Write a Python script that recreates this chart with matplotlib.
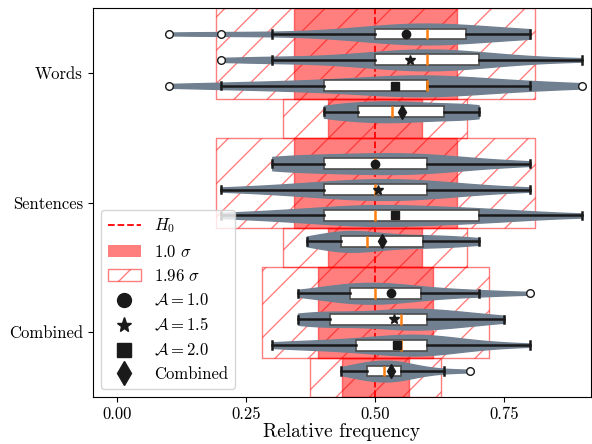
import numpy as np
import matplotlib
matplotlib.use("Agg")
import matplotlib.pyplot as plt
from matplotlib.lines import Line2D
from matplotlib.patches import Patch

plt.rcParams['font.family'] = 'serif'
plt.rcParams['font.serif'] = ['cmr10']
plt.rcParams['mathtext.fontset'] = 'cm'
plt.rcParams['axes.formatter.use_mathtext'] = True

# relative frequencies (value -> number of participants)
words_vals = [0.1, 0.2, 0.3, 0.4, 0.5, 0.6, 0.7, 0.8, 0.9]
words_a10 = [1, 1, 1, 1, 4, 8, 3, 3, 0]
words_a15 = [0, 1, 2, 1, 4, 7, 4, 1, 1]
words_a20 = [1, 1, 2, 2, 3, 7, 2, 2, 1]
words_comb_vals = [0.4, 0.433, 0.467, 0.5, 0.533, 0.567, 0.6, 0.633, 0.667, 0.7]
words_comb = [2, 2, 2, 2, 3, 2, 2, 1, 2, 3]

sent_vals = [0.1, 0.2, 0.3, 0.4, 0.5, 0.6, 0.7, 0.8, 0.9]
sent_a10 = [0, 0, 4, 4, 5, 5, 2, 1, 0]
sent_a15 = [0, 1, 2, 4, 6, 5, 2, 1, 0]
sent_a20 = [0, 1, 2, 3, 6, 3, 4, 1, 1]
sent_comb_vals = [0.367, 0.4, 0.433, 0.467, 0.5, 0.533, 0.567, 0.6, 0.633, 0.667, 0.7]
sent_comb = [1, 2, 4, 4, 2, 1, 2, 2, 1, 2, 1]

comb_vals = [0.3, 0.35, 0.4, 0.45, 0.5, 0.55, 0.6, 0.65, 0.7, 0.75, 0.8]
comb_a10 = [0, 1, 2, 5, 4, 4, 2, 1, 2, 0, 1]
comb_a15 = [0, 2, 4, 1, 2, 4, 4, 2, 2, 1, 0]
comb_a20 = [1, 2, 1, 2, 3, 3, 6, 1, 2, 0, 1]
comb_comb_vals = [0.433, 0.45, 0.467, 0.483, 0.5, 0.517, 0.533, 0.55, 0.567,
                  0.583, 0.6, 0.633, 0.683]
comb_comb = [1, 1, 2, 2, 2, 3, 2, 3, 1, 1, 1, 1, 1]

groups = ['Words', 'Sentences', 'Combined']
# std of relative frequency under H0 (per-A rows, combined row)
sigma_a = [0.158, 0.158, 0.112]
sigma_comb = [0.091, 0.091, 0.065]
h0 = 0.5

rows = [
    (words_vals, words_a10), (words_vals, words_a15), (words_vals, words_a20),
    (words_comb_vals, words_comb),
    (sent_vals, sent_a10), (sent_vals, sent_a15), (sent_vals, sent_a20),
    (sent_comb_vals, sent_comb),
    (comb_vals, comb_a10), (comb_vals, comb_a15), (comb_vals, comb_a20),
    (comb_comb_vals, comb_comb),
]
data = [np.repeat(v, c) for v, c in rows]

mean_markers = ['o', '*', 's', 'd']
mean_sizes = [6, 7, 6, 7.5]

fig = plt.figure(figsize=(5.92, 4.44), dpi=100)
ax = fig.add_axes([0.1566, 0.1059, 0.841, 0.876])

positions = []
for g in range(3):
    p = g * 5
    positions += [p, p + 1, p + 2, p + 3]
    # sigma bands
    for (y0, y1), s in [((p - 1, p + 2.5), sigma_a[g]), ((p + 2.5, p + 4), sigma_comb[g])]:
        ax.fill_betweenx([y0, y1], h0 - s, h0 + s, color='red', alpha=0.5,
                         lw=1, zorder=1)
        ax.fill_betweenx([y0, y1], h0 - 1.96 * s, h0 + 1.96 * s, facecolor='none',
                         edgecolor='red', alpha=0.5, hatch='/', lw=1, zorder=1)

ax.axvline(h0, color='red', ls='--', lw=1.3, zorder=1.5)

vp = ax.violinplot(data, positions=positions, orientation='horizontal',
                   widths=0.8, showextrema=False)
for body in vp['bodies']:
    body.set_facecolor('slategray')
    body.set_edgecolor('slategray')
    body.set_alpha(1)
    body.set_zorder(2)

for i, (d, p) in enumerate(zip(data, positions)):
    k = i % 4
    ax.boxplot([d], positions=[p], orientation='horizontal', widths=0.42,
               patch_artist=True, showmeans=True, manage_ticks=False,
               capwidths=0.28, zorder=3,
               boxprops=dict(facecolor='white', edgecolor='0.3', lw=1.2),
               whiskerprops=dict(color='0.1', lw=1.8),
               capprops=dict(color='0.1', lw=1.8),
               medianprops=dict(color='C1', lw=1.8),
               meanprops=dict(marker=mean_markers[k], markerfacecolor='0.1',
                              markeredgecolor='0.1', markersize=mean_sizes[k]),
               flierprops=dict(marker='o', markerfacecolor='white',
                               markeredgecolor='0.1', markersize=5.5))

ax.set_xlim(-0.048, 0.917)
ax.set_ylim(14, -1)
ax.set_xticks([0, 0.25, 0.5, 0.75])
ax.set_xticklabels(['0.00', '0.25', '0.50', '0.75'])
ax.set_yticks([1.5, 6.5, 11.5])
ax.set_yticklabels(groups)
ax.tick_params(labelsize=12)
ax.set_xlabel('Relative frequency', fontsize=14, labelpad=1)

handles = [
    Line2D([], [], color='red', ls='--', lw=1.3),
    Patch(facecolor='red', alpha=0.5),
    Patch(facecolor='none', edgecolor='red', alpha=0.5, hatch='/'),
    Line2D([], [], ls='', marker='o', color='0.1', markersize=10),
    Line2D([], [], ls='', marker='*', color='0.1', markersize=11),
    Line2D([], [], ls='', marker='s', color='0.1', markersize=10),
    Line2D([], [], ls='', marker='d', color='0.1', markersize=12),
]
labels = [r'$H_0$', r'$1.0~\sigma$', r'$1.96~\sigma$', r'$\mathcal{A}=1.0$',
          r'$\mathcal{A}=1.5$', r'$\mathcal{A}=2.0$', 'Combined']
ax.legend(handles, labels, loc='lower left', fontsize=12)

fig.savefig('out.png', dpi=100)
